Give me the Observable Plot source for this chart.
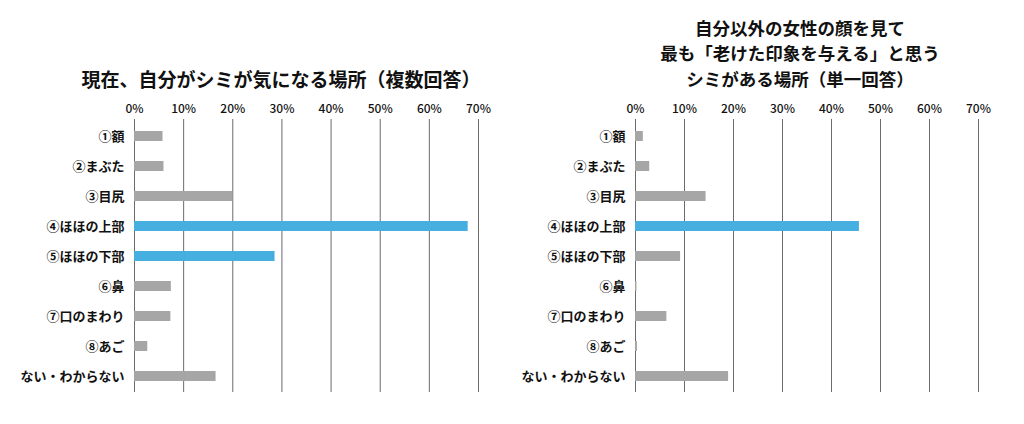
<!DOCTYPE html>
<html><head><meta charset="utf-8">
<script src="https://cdn.jsdelivr.net/npm/d3@7"></script>
<script src="https://cdn.jsdelivr.net/npm/@observablehq/plot@0.6"></script>
<style>
body{margin:0;background:#fff;font-family:"Noto Sans CJK JP",sans-serif;}
#wrap{display:flex;width:1024px;}
.col{width:512px;display:flex;flex-direction:column;}
.title{height:91px;display:flex;flex-direction:column;justify-content:flex-end;align-items:center;font-weight:bold;color:#111;text-align:center;box-sizing:border-box;}
.title div{height:25.5px;line-height:25.5px;white-space:nowrap;}
</style></head>
<body><div id="wrap"></div>
<script>
const categories = ["①額","②まぶた","③目尻","④ほほの上部","⑤ほほの下部","⑥鼻","⑦口のまわり","⑧あご","ない・わからない"];
const leftValues = [5.8, 6.0, 20.0, 67.9, 28.6, 7.5, 7.4, 2.7, 16.6];
const rightValues = [1.6, 2.9, 14.4, 45.7, 9.2, 0.3, 6.4, 0.4, 19.0];
const leftHighlight = ["④ほほの上部","⑤ほほの下部"];
const rightHighlight = ["④ほほの上部"];
const xTicks = [0,10,20,30,40,50,60,70];
const leftTitle = ["現在、自分がシミが気になる場所（複数回答）"];
const rightTitle = ["自分以外の女性の顔を見て","最も「老けた印象を与える」と思う","シミがある場所（単一回答）"];

function chart(values, highlight, titleLines, ml, mr, padLeft, fs){
  const col = document.createElement("div");
  col.className = "col";
  const t = document.createElement("div");
  t.className = "title";
  t.style.paddingLeft = padLeft + "px";
  t.style.fontSize = fs + "px";
  titleLines.forEach(l => { const d = document.createElement("div"); d.textContent = l; t.appendChild(d); });
  col.appendChild(t);
  const data = categories.map((c,i) => ({cat:c, v:values[i], hi: highlight.includes(c)}));
  const p = Plot.plot({
    width: 512, height: 311,
    marginTop: 28, marginBottom: 10, marginLeft: ml, marginRight: mr,
    style: {fontFamily: '"Noto Sans CJK JP", sans-serif', color:"#111"},
    x: {domain:[0,70], axis:null, label:null},
    y: {domain: categories, paddingInner: 0.68, paddingOuter: 0.34, axis:null, label:null},
    marks: [
      Plot.ruleX(xTicks, {x: d => d, stroke:"#6b6b6b", strokeWidth:1}),
      Plot.axisX(xTicks, {anchor:"top", label:null, tickSize:0, tickPadding:7, tickFormat: d => d + "%", fontSize:12, fontWeight:500, fill:"#111"}),
      Plot.axisY({anchor:"left", label:null, tickSize:0, tickPadding:10, fontSize:13, fontWeight:"bold", fill:"#111"}),
      Plot.barX(data, {y:"cat", x:"v", fill: d => d.hi ? "#47afe0" : "#a6a6a6"})
    ]
  });
  col.appendChild(p);
  return col;
}
const wrap = document.getElementById("wrap");
wrap.appendChild(chart(leftValues, leftHighlight, leftTitle, 134, 34, 50, 19));
wrap.appendChild(chart(rightValues, rightHighlight, rightTitle, 123, 46, 64, 17.5));
</script></body></html>
